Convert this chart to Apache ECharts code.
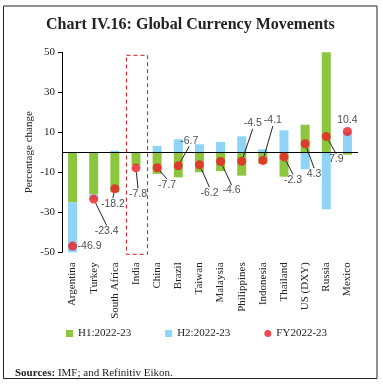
<!DOCTYPE html>
<html>
<head>
<meta charset="utf-8">
<script src="https://cdn.jsdelivr.net/npm/echarts@6/dist/echarts.min.js"></script>
<style>
html,body{margin:0;padding:0;background:#fff;}
#c{width:383px;height:385px;}
</style>
</head>
<body>
<div id="c"></div>
<script>
var categories = ['Argentina','Turkey','South Africa','India','China','Brazil','Taiwan','Malaysia','Philippines','Indonesia','Thailand','US (DXY)','Russia','Mexico'];
var h1Values = [-25.0, -21.0, -20.0, -6.4, -10.8, -12.5, -10.0, -9.4, -11.7, -5.7, -12.2, 13.8, 50.8, -1.2];
var h2Values = [-25.0, -2.5, 0.8, 0, 3.2, 6.5, 4.0, 5.2, 8.0, 1.5, 11.0, -8.5, -28.5, 10.3];
var fyValues = [-46.9, -23.4, -18.2, -7.8, -7.7, -6.7, -6.2, -4.6, -4.5, -4.1, -2.3, 4.3, 7.9, 10.4];
var yTickLabels = [-50, -30, -10, 10, 30, 50];
var highlightCategory = ['India'];

// label offsets (layout only), [dx, dy] from dot centre
var labelOffsets = [[17,0],[13,32],[-2,15],[2,26],[10,17],[11,-25],[10,28],[11,29],[11,-38],[10,-40],[9,23],[9,30],[10,23],[0,-11]];
var noLine = {0:true, 13:true};

var serif = '"Liberation Serif", "DejaVu Serif", serif';
var chart = echarts.init(document.getElementById('c'), null, {renderer:'canvas'});

var option = {
  backgroundColor: '#fff',
  animation: false,
  title: {
    text: 'Chart IV.16: Global Currency Movements',
    left: 41, top: 12,
    textStyle: {fontFamily: serif, fontWeight: 'bold', fontSize: 16, color: '#222'}
  },
  grid: {left: 62, right: 25, top: 52.3, bottom: 132.7, containLabel: false},
  legend: {
    bottom: 41, left: 61,
    itemWidth: 7, itemHeight: 7, itemGap: 34,
    textStyle: {fontFamily: serif, fontSize: 11, color: '#222'},
    data: [
      {name: 'H1:2022-23', icon: 'rect'},
      {name: 'H2:2022-23', icon: 'rect'},
      {name: 'FY2022-23', icon: 'circle'}
    ]
  },
  xAxis: {
    type: 'category',
    data: categories,
    axisLine: {show: false},
    axisTick: {show: false},
    axisLabel: {rotate: 90, margin: 10, fontFamily: serif, fontSize: 11, color: '#222', interval: 0}
  },
  yAxis: {
    type: 'value',
    min: -50, max: 50, interval: 10,
    name: 'Percentage change',
    nameLocation: 'middle',
    nameGap: 27,
    nameMoveOverlap: false,
    nameTextStyle: {fontFamily: serif, fontSize: 11, color: '#222'},
    axisLine: {show: true, lineStyle: {color: '#000', width: 1}},
    axisTick: {show: true, length: 4, customValues: yTickLabels, lineStyle: {color: '#000'}},
    axisLabel: {customValues: yTickLabels, fontFamily: serif, fontSize: 11, color: '#222', margin: 7},
    splitLine: {show: false}
  },
  graphic: [
    {type: 'rect', shape: {x: 3.5, y: 6, width: 373.5, height: 372.5}, style: {fill: 'none', stroke: '#222', lineWidth: 1}, z: 100},
    {type: 'text', left: 15, top: 368, style: {
      text: '{b|Sources:} IMF; and Refinitiv Eikon.',
      rich: {b: {fontFamily: serif, fontWeight: 'bold', fontSize: 11, fill: '#222'}},
      font: '11px ' + serif, fill: '#222'
    }}
  ],
  series: [
    {
      name: 'H1:2022-23', type: 'bar', stack: 'a', barWidth: 9,
      itemStyle: {color: '#8cc63f'},
      data: h1Values,
      markLine: {
        silent: true, symbol: 'none', label: {show: false},
        lineStyle: {color: '#000', type: 'solid', width: 1},
        data: [{yAxis: 0}]
      }
    },
    {
      name: 'H2:2022-23', type: 'bar', stack: 'a', barWidth: 9,
      itemStyle: {color: '#8fd4f5'},
      data: h2Values
    },
    {
      name: 'FY2022-23', type: 'scatter', symbolSize: 9, z: 5,
      itemStyle: {color: '#ee1c25'},
      data: fyValues.map(function(v, i){
        return {value: v, labelLine: {show: !noLine[i]}};
      }),
      label: {
        show: true, position: 'inside',
        fontFamily: '"Liberation Sans", Arial, sans-serif', fontSize: 10.5, color: '#222',
        formatter: function(p){ return String(p.value); }
      },
      labelLine: {show: true, lineStyle: {color: '#222', width: 1}},
      labelLayout: function(p){
        var o = labelOffsets[p.dataIndex];
        return {dx: o[0], dy: o[1]};
      }
    },
    {
      name: 'highlight', type: 'custom', silent: true, z: 6,
      data: highlightCategory.map(function(c){ return [c, 48.5, -51]; }),
      renderItem: function(params, api){
        var top = api.coord([api.value(0), api.value(1)]);
        var bot = api.coord([api.value(0), api.value(2)]);
        var w = api.size([1, 0])[0];
        return {
          type: 'rect',
          shape: {x: top[0] - w/2 + 1, y: top[1], width: w, height: bot[1] - top[1]},
          style: {fill: 'none', stroke: '#d71920', lineWidth: 1, lineDash: [4, 3]}
        };
      }
    }
  ]
};
chart.setOption(option);
</script>
</body>
</html>
